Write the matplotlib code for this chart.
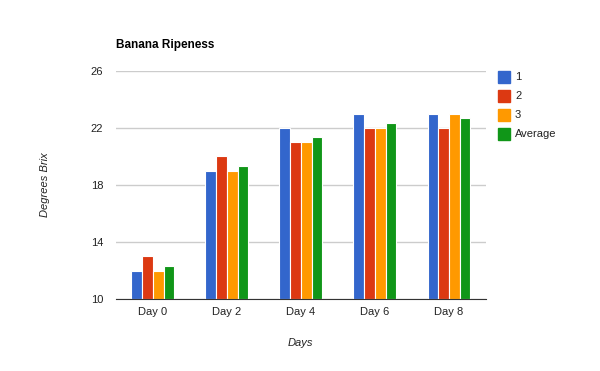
import numpy as np
import matplotlib
matplotlib.use("Agg")
import matplotlib.pyplot as plt
from matplotlib.patches import Rectangle

plt.rcParams['font.family'] = ['Liberation Sans', 'DejaVu Sans']

days = ["Day 0", "Day 2", "Day 4", "Day 6", "Day 8"]
series_names = ["1", "2", "3", "Average"]
s1 = [12, 19, 22, 23, 23]
s2 = [13, 20, 21, 22, 22]
s3 = [12, 19, 21, 22, 23]
avg = [12.33, 19.33, 21.33, 22.33, 22.67]
y_ticks = [10, 14, 18, 22, 26]
colors = ["#3366cc", "#dc3912", "#ff9900", "#109618"]

fig = plt.figure(figsize=(6, 3.71), dpi=100)
ax = fig.add_axes([0.193, 0.194, 0.617, 0.615])

x = np.arange(len(days))
group = 0.58
w = group / 4
for i, (vals, c) in enumerate(zip([s1, s2, s3, avg], colors)):
    pos = x - group / 2 + w * (i + 0.5)
    ax.bar(pos, np.array(vals) - 10, bottom=10, width=w, color=c,
           edgecolor="white", linewidth=0.8, zorder=3)

ax.set_xlim(-0.5, len(days) - 0.5)
ax.set_ylim(10, 26)
ax.set_yticks(y_ticks)
ax.set_xticks(x)
ax.set_xticklabels(days)
ax.tick_params(length=0, labelsize=8, colors="#222222")
ax.tick_params(axis="y", pad=9)
ax.tick_params(axis="x", pad=6)
ax.grid(axis="y", color="#cccccc", linewidth=1, zorder=0)
for side in ["top", "right", "left"]:
    ax.spines[side].set_visible(False)
ax.spines["bottom"].set_color("#333333")
ax.spines["bottom"].set_zorder(4)

fig.text(116 / 600, 1 - 45 / 371, "Banana Ripeness", fontsize=8.5,
         fontweight="bold", va="center", ha="left")
fig.text(45 / 600, 1 - 185 / 371, "Degrees Brix", fontsize=8, style="italic",
         rotation=90, va="center", ha="center", color="#222222")
fig.text(300 / 600, 1 - 343 / 371, "Days", fontsize=8, style="italic",
         va="center", ha="center", color="#222222")

# legend
for i, (name, c) in enumerate(zip(series_names, colors)):
    yc = 77 + 19 * i
    fig.patches.append(Rectangle((498 / 600, 1 - (yc + 6) / 371), 12 / 600, 12 / 371,
                                 transform=fig.transFigure, color=c))
    fig.text(515 / 600, 1 - yc / 371, name, fontsize=8, va="center",
             ha="left", color="#222222")

fig.savefig("out.png", dpi=100)
